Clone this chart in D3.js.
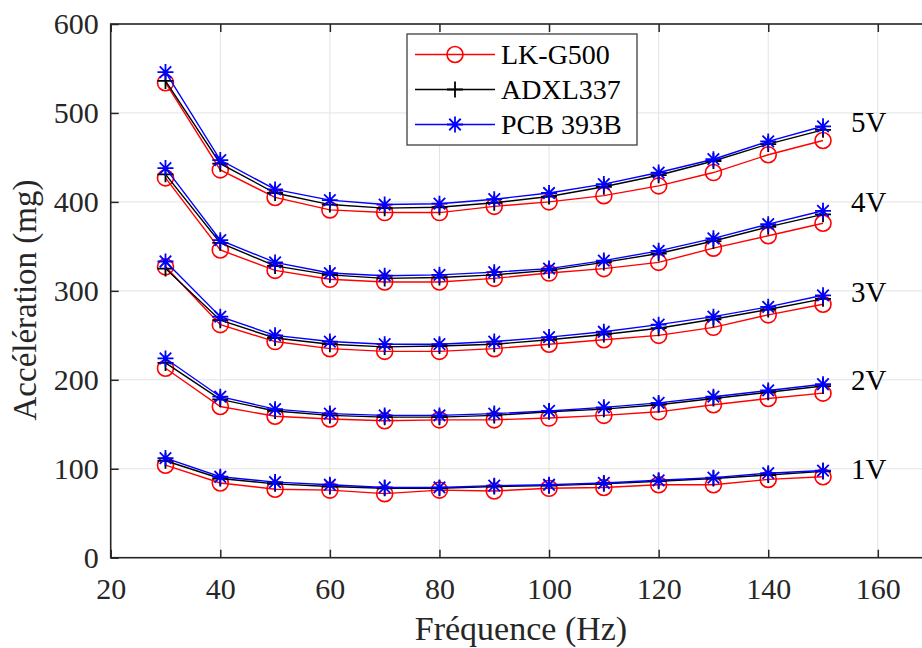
<!DOCTYPE html>
<html>
<head>
<meta charset="utf-8">
<script src="https://cdn.jsdelivr.net/npm/d3@7"></script>
<style>
html,body{margin:0;padding:0;background:#fff;overflow:hidden;}
svg{display:block;}
text{font-family:"Liberation Serif","Times New Roman",Times,serif;}
</style>
</head>
<body>
<svg id="chart" width="922" height="648"></svg>
<script>
// ---- data ----
const freq = [30,40,50,60,70,80,90,100,110,120,130,140,150];
const xTicks = [20,40,60,80,100,120,140,160];
const yTicks = [0,100,200,300,400,500,600];
const sensorNames = ["LK-G500","ADXL337","PCB 393B"];
const sensorColors = ["#ff0000","#000000","#0000ff"];
const sensorMarkers = ["circle","plus","asterisk"];
const voltageLabels = ["5V","4V","3V","2V","1V"];
const voltageLabelY = [490,400,299,200,99];

const lk5 = [534,436,405,391,388,388,395,400,407,418,433,453,469];
const adxl5 = [536,443,410,397,393,394,399,406,417,430,446,465,481];
const pcb5 = [546,447,414,402,397,398,403,410,420,433,448,468,485];

const lk4 = [427,346,323,313,310,310,314,320,325,332,348,362,376];
const adxl4 = [431,354,328,318,314,315,318,323,332,342,356,372,386];
const pcb4 = [438,357,332,320,317,318,321,325,334,345,359,375,390];

const lk3 = [327,262,243,235,232,232,235,240,245,250,259,273,285];
const adxl3 = [325,267,247,240,237,238,240,245,251,258,268,279,291];
const pcb3 = [333,271,250,243,240,240,243,248,254,262,271,282,295];

const lk2 = [213,170,159,156,154,155,155,157,160,164,172,179,185];
const adxl2 = [219,178,165,160,158,158,160,164,167,172,179,186,193];
const pcb2 = [224,181,167,162,160,160,162,165,169,174,181,188,195];

const lk1 = [104,84,77,76,72,76,75,78,79,82,82,88,91];
const adxl1 = [109,89,83,80,78,78,80,81,83,86,89,93,97];
const pcb1 = [112,91,85,82,79,79,81,82,84,87,90,95,98];

const groups = [
  [lk5, adxl5, pcb5],
  [lk4, adxl4, pcb4],
  [lk3, adxl3, pcb3],
  [lk2, adxl2, pcb2],
  [lk1, adxl1, pcb1]
];

// ---- layout ----
const FONT = "Liberation Serif, Times New Roman, Times, serif";
const svg = d3.select("#chart");
const L = 110.7, T = 24, B = 557.7, R = 932.6;
const x = d3.scaleLinear().domain([20,170]).range([L,R]);
const y = d3.scaleLinear().domain([0,600]).range([B,T]);
const axisColor = "#262626";

// grid
const grid = svg.append("g");
grid.selectAll(".gx").data(xTicks).enter().append("line")
  .attr("x1",d=>x(d)).attr("x2",d=>x(d)).attr("y1",T).attr("y2",B)
  .attr("stroke","#e3e3e3").attr("stroke-width",1);
grid.selectAll(".gy").data(yTicks).enter().append("line")
  .attr("x1",L).attr("x2",R).attr("y1",d=>y(d)).attr("y2",d=>y(d))
  .attr("stroke","#e3e3e3").attr("stroke-width",1);

// axes
const fs = 30;
const gx = svg.append("g").attr("transform",`translate(0,${B})`)
  .call(d3.axisBottom(x).tickValues(xTicks).tickSize(-8).tickPadding(20).tickFormat(d3.format("d")));
const gt = svg.append("g").attr("transform",`translate(0,${T})`)
  .call(d3.axisTop(x).tickValues(xTicks).tickSize(-8).tickFormat(""));
const gy = svg.append("g").attr("transform",`translate(${L},0)`)
  .call(d3.axisLeft(y).tickValues(yTicks).tickSize(-8).tickPadding(12).tickFormat(d3.format("d")));
[gx,gt,gy].forEach(g=>{
  g.attr("font-family",FONT).attr("font-size",fs);
  g.select(".domain").remove();
  g.selectAll(".tick line").attr("stroke",axisColor).attr("stroke-width",1.5);
  g.selectAll(".tick text").attr("fill",axisColor).attr("font-family",FONT).attr("font-size",fs);
});

// data lines and markers
const line = d3.line().x((d,i)=>x(freq[i])).y(d=>y(d));

function drawMarker(g, type, cx, cy, color){
  const s = 8;
  if(type==="circle"){
    g.append("circle").attr("cx",cx).attr("cy",cy).attr("r",s)
      .attr("fill","none").attr("stroke",color).attr("stroke-width",1.6);
  } else if(type==="plus"){
    g.append("path").attr("d",`M${cx-s},${cy}H${cx+s}M${cx},${cy-s}V${cy+s}`)
      .attr("stroke",color).attr("stroke-width",1.8).attr("fill","none");
  } else {
    const d = s*0.72;
    g.append("path").attr("d",`M${cx-s},${cy}H${cx+s}M${cx},${cy-s}V${cy+s}M${cx-d},${cy-d}L${cx+d},${cy+d}M${cx-d},${cy+d}L${cx+d},${cy-d}`)
      .attr("stroke",color).attr("stroke-width",1.8).attr("fill","none");
  }
}

const plot = svg.append("g");
for(let s=0;s<3;s++){
  groups.forEach(grp=>{
    const vals = grp[s];
    const g = plot.append("g");
    g.append("path").datum(vals).attr("d",line)
      .attr("fill","none").attr("stroke",sensorColors[s]).attr("stroke-width",1.4);
    vals.forEach((v,i)=>drawMarker(g,sensorMarkers[s],x(freq[i]),y(v),sensorColors[s]));
  });
}

// border box
svg.append("rect").attr("x",L).attr("y",T).attr("width",R-L).attr("height",B-T)
  .attr("fill","none").attr("stroke",axisColor).attr("stroke-width",1.6);

// voltage labels
svg.selectAll(".vl").data(voltageLabels).enter().append("text")
  .attr("x",x(155.1)).attr("y",(d,i)=>y(voltageLabelY[i]))
  .attr("dy","0.34em").attr("font-family",FONT).attr("font-size",29).attr("fill","#000")
  .text(d=>d);

// legend
const lg = svg.append("g");
lg.append("rect").attr("x",407).attr("y",34).attr("width",230).attr("height",111)
  .attr("fill","#fff").attr("stroke","#404040").attr("stroke-width",1.3);
sensorNames.forEach((n,i)=>{
  const yy = 54.5 + i*35;
  lg.append("line").attr("x1",415).attr("x2",495).attr("y1",yy).attr("y2",yy)
    .attr("stroke",sensorColors[i]).attr("stroke-width",1.4);
  drawMarker(lg, sensorMarkers[i], 455, yy, sensorColors[i]);
  lg.append("text").attr("x",501).attr("y",yy).attr("dy","0.34em")
    .attr("font-family",FONT).attr("font-size",28).attr("fill","#000").text(n);
});

// axis titles
svg.append("text").attr("x",521).attr("y",640)
  .attr("text-anchor","middle").attr("font-family",FONT).attr("font-size",34).attr("fill",axisColor)
  .text("Fréquence (Hz)");
svg.append("text").attr("transform",`translate(36,300) rotate(-90)`)
  .attr("text-anchor","middle").attr("font-family",FONT).attr("font-size",33).attr("fill",axisColor)
  .text("Accélération (mg)");
</script>
</body>
</html>
